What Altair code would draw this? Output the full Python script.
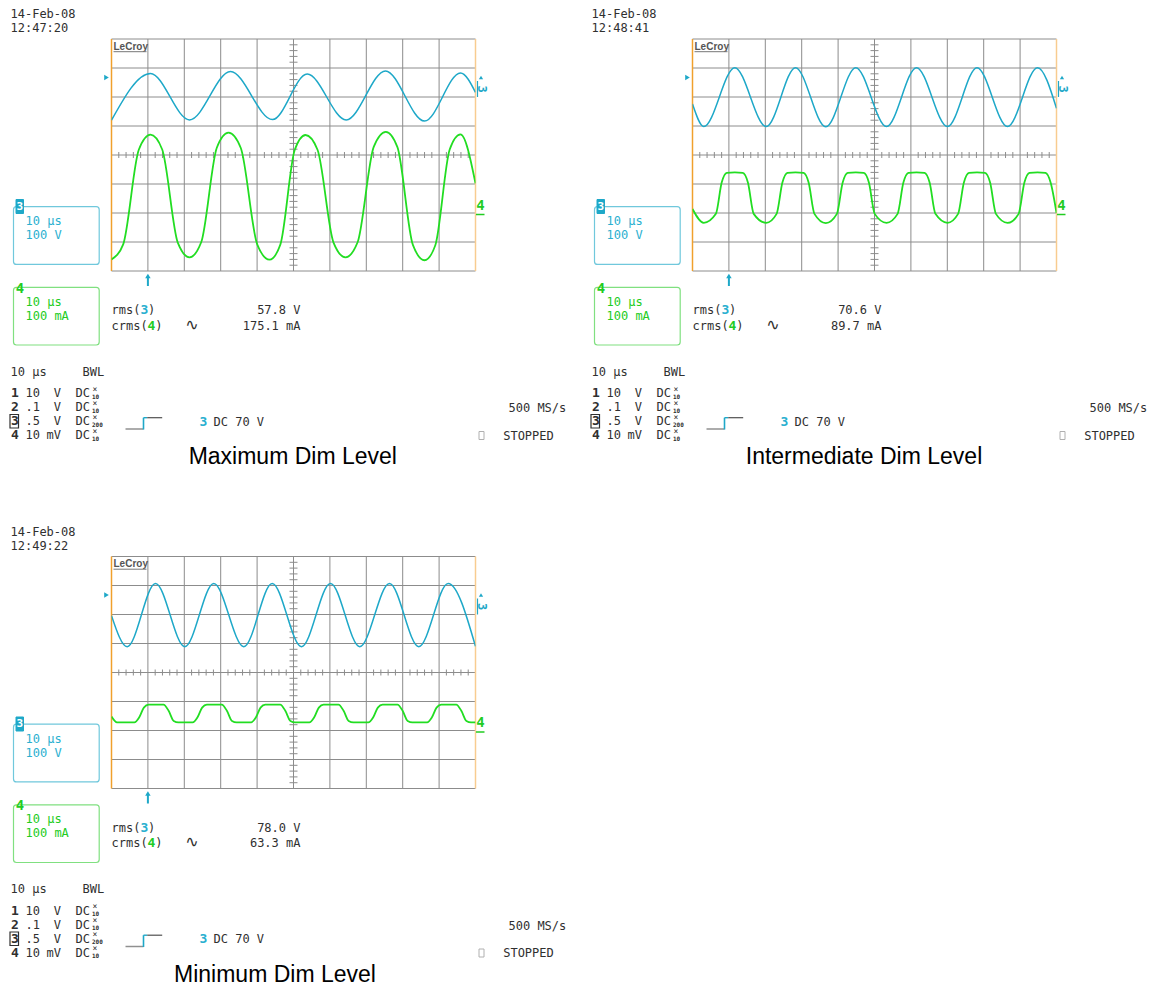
import altair as alt
import pandas as pd

# ---------------- data ----------------
PANEL_DATE = ["14-Feb-08", "14-Feb-08", "14-Feb-08"]
PANEL_TIME = ["12:47:20", "12:48:41", "12:49:22"]
PANEL_TITLE = ["Maximum Dim Level", "Intermediate Dim Level", "Minimum Dim Level"]
RMS_VOLT = ["57.8 V", "70.6 V", "78.0 V"]
CRMS_CURR = ["175.1 mA", "89.7 mA", "63.3 mA"]
TIMEBASE = "10 µs"
CH3_SCALE = "100 V"
CH4_SCALE = "100 mA"
CH_NUM = ["1", "2", "3", "4"]
CH_VAL = ["10", ".1", ".5", "10"]
CH_UNIT = ["V", "V", "V", "mV"]
CH_COUP = ["DC", "DC", "DC", "DC"]
CH_PROBE = ["10", "10", "200", "10"]
TRIGGER_TEXT = "DC 70 V"
SAMPLE_RATE = "500 MS/s"
STATUS = "STOPPED"

# screen graticule: 10 µs/div (0..100 µs), 8 vertical divisions (-4..4)
X_GRID = [0, 10, 20, 30, 40, 50, 60, 70, 80, 90, 100]
Y_GRID = [-4, -3, -2, -1, 0, 1, 2, 3, 4]
X_MINOR = [t for t in range(2, 100, 2) if t % 10]
Y_MINOR = [round(-4 + 0.2 * i, 1) for i in range(1, 40) if i % 5]

# waveforms: time (µs) and level (divisions)
P1_CYAN_T = [0, 10.71, 21.43, 32.69, 44.23, 53.76, 64.48, 75.27, 85.99, 95.88, 100]
P1_CYAN_V = [1.20, 2.81, 1.21, 2.88, 1.22, 2.79, 1.21, 2.90, 1.17, 2.83, 2.16]
P1_GREEN_T = [0, 3.21, 7.50, 10.71, 13.93, 18.21, 21.43, 24.64, 28.93, 32.14, 35.52,
              40.03, 43.41, 46.38, 50.33, 53.30, 56.60, 60.99, 64.29, 67.61, 72.04,
              75.36, 78.55, 82.80, 85.99, 88.96, 92.91, 95.88, 100]
P1_GREEN_V = [-3.60, -3.08, 0.18, 0.70, 0.19, -3.02, -3.53, -3.01, 0.25, 0.77, 0.24,
              -3.08, -3.61, -3.09, 0.17, 0.69, 0.18, -3.02, -3.53, -3.01, 0.28,
              0.80, 0.27, -3.10, -3.63, -3.11, 0.19, 0.71, -0.98]

P2_CYAN_T = [0, 3.10, 11.62, 20.25, 28.30, 36.62, 44.86, 53.30, 61.54, 70.05, 78.16,
             86.54, 94.78, 100]
P2_CYAN_V = [1.76, 0.98, 3.01, 0.98, 3.01, 0.97, 3.01, 0.98, 3.01, 0.98, 3.01,
             0.98, 3.01, 1.61]
P2_GREEN_T = [0, 3.10,
              6.42, 8.02, 9.42, 11.62, 13.82, 15.22, 16.82, 20.25,
              23.10, 24.70, 26.10, 28.30, 30.50, 31.90, 33.50, 36.62,
              39.66, 41.26, 42.66, 44.86, 47.06, 48.46, 50.06, 53.30,
              56.34, 57.94, 59.34, 61.54, 63.74, 65.14, 66.74, 70.05,
              72.96, 74.56, 75.96, 78.16, 80.36, 81.76, 83.36, 86.54,
              89.58, 91.18, 92.58, 94.78, 96.98, 98.38, 100]
P2_GREEN_V = [-1.86, -2.34,
              -2.03, -0.95, -0.62, -0.60, -0.62, -0.95, -2.03, -2.34,
              -2.03, -0.95, -0.62, -0.60, -0.62, -0.95, -2.03, -2.35,
              -2.03, -0.95, -0.62, -0.60, -0.62, -0.95, -2.03, -2.34,
              -2.03, -0.95, -0.62, -0.60, -0.62, -0.95, -2.03, -2.34,
              -2.03, -0.95, -0.62, -0.60, -0.62, -0.95, -2.03, -2.34,
              -2.03, -0.95, -0.62, -0.60, -0.62, -0.95, -2.00]

P3_CYAN_T = [0, 4.31, 12.09, 20.14, 28.10, 36.35, 44.15, 52.20, 60.16, 68.21, 76.37,
             84.42, 92.50, 100]
P3_CYAN_V = [1.96, 0.89, 3.07, 0.89, 3.07, 0.89, 3.07, 0.89, 3.07, 0.89, 3.07,
             0.89, 3.07, 0.90]
P3_GREEN_T = [0, 1.5,
              6.29, 7.59, 8.89, 10.19, 14.29, 15.69, 17.09, 18.39,
              22.30, 23.60, 24.90, 26.20, 30.30, 31.70, 33.10, 34.40,
              38.35, 39.65, 40.95, 42.25, 46.35, 47.75, 49.15, 50.45,
              54.36, 55.66, 56.96, 58.26, 62.36, 63.76, 65.16, 66.46,
              70.57, 71.87, 73.17, 74.47, 78.57, 79.97, 81.37, 82.67,
              86.70, 88.00, 89.30, 90.60, 94.70, 96.10, 97.50, 98.80, 100]
P3_GREEN_V = [-1.52, -1.72,
              -1.72, -1.55, -1.21, -1.11, -1.11, -1.32, -1.67, -1.72,
              -1.72, -1.55, -1.21, -1.11, -1.11, -1.32, -1.67, -1.72,
              -1.72, -1.55, -1.21, -1.11, -1.11, -1.32, -1.67, -1.72,
              -1.72, -1.55, -1.21, -1.11, -1.11, -1.32, -1.67, -1.72,
              -1.72, -1.55, -1.21, -1.11, -1.11, -1.32, -1.67, -1.72,
              -1.72, -1.55, -1.21, -1.11, -1.11, -1.32, -1.67, -1.72, -1.72]

# ---------------- style / layout ----------------
W, H = 364, 232
MONO = "DejaVu Sans Mono"
SANS = "DejaVu Sans"
TITLE_FONT = "Liberation Sans"
GRID = "#8c8c8c"
LEFT_EDGE = "#f0a02c"
RIGHT_EDGE = "#f8cc90"
CYAN = "#1ea8c8"
GREEN = "#22dd22"
CYAN_TXT = "#2ab0d0"
GREEN_TXT = "#22cc22"
BOX3 = "#70c8dc"
BOX4 = "#80e080"
INK = "#303030"
TITLE_DX = [181.3, 171.5, 163.5]

XS = alt.Scale(domain=[0, 100], nice=False, zero=False)
YS = alt.Scale(domain=[-4, 4], nice=False, zero=False)


def one():
    return alt.Chart(pd.DataFrame({"k": [0]}))


def txt(s, x, y, color=INK, size=12, weight="normal", align="left", font=MONO, angle=None):
    kw = dict(text=s, color=color, fontSize=size, fontWeight=weight, align=align,
              font=font, baseline="middle")
    if angle is not None:
        kw["angle"] = angle
    return one().mark_text(**kw).encode(x=alt.value(x), y=alt.value(y))


def seg(x1, y1, x2, y2, color, width=1.0):
    return one().mark_rule(color=color, strokeWidth=width).encode(
        x=alt.value(x1), y=alt.value(y1), x2=alt.value(x2), y2=alt.value(y2))


def box(x1, y1, x2, y2, stroke, fill="#ffffff", fill_opacity=0.0, radius=0, width=1.0):
    return one().mark_rect(stroke=stroke, strokeWidth=width, fill=fill,
                           fillOpacity=fill_opacity, cornerRadius=radius).encode(
        x=alt.value(x1), y=alt.value(y1), x2=alt.value(x2), y2=alt.value(y2))


def pt(x, y, shape, color, size):
    return one().mark_point(shape=shape, filled=True, color=color, size=size,
                            opacity=1).encode(x=alt.value(x), y=alt.value(y))


def X(f="t"):
    return alt.X(f + ":Q", scale=XS, axis=None)


def Y(f="v"):
    return alt.Y(f + ":Q", scale=YS, axis=None)


def wave(ts, vs, color, width):
    df = pd.DataFrame({"t": ts, "v": vs})
    return alt.Chart(df).mark_line(interpolate="monotone", color=color,
                                   strokeWidth=width, clip=True).encode(x=X(), y=Y())


def panel(i, ct, cv, gt, gv):
    L = []
    # graticule
    L.append(alt.Chart(pd.DataFrame({"t": X_GRID[1:-1]})).mark_rule(
        color=GRID, strokeWidth=1).encode(x=X()))
    L.append(alt.Chart(pd.DataFrame({"v": Y_GRID})).mark_rule(
        color=GRID, strokeWidth=1).encode(y=Y()))
    L.append(alt.Chart(pd.DataFrame({"t": [X_GRID[0]]})).mark_rule(
        color=LEFT_EDGE, strokeWidth=1.5).encode(x=X()))
    L.append(alt.Chart(pd.DataFrame({"t": [X_GRID[-1]]})).mark_rule(
        color=RIGHT_EDGE, strokeWidth=1.5).encode(x=X()))
    L.append(alt.Chart(pd.DataFrame({"t": X_MINOR, "v": [0] * len(X_MINOR)})).mark_tick(
        orient="vertical", size=6, thickness=1, color=GRID, opacity=1).encode(x=X(), y=Y()))
    L.append(alt.Chart(pd.DataFrame({"t": [50] * len(Y_MINOR), "v": Y_MINOR})).mark_tick(
        orient="horizontal", size=8, thickness=1, color=GRID, opacity=1).encode(x=X(), y=Y()))
    # waveforms
    L.append(wave(ct, cv, CYAN, 1.5))
    L.append(wave(gt, gv, GREEN, 1.8))

    # screen annotations
    L.append(txt(PANEL_DATE[i], -101, -24.8))
    L.append(txt(PANEL_TIME[i], -101, -10.8))
    L.append(txt("LeCroy", 2, 7.7, color="#555555", size=10, weight="bold", font=TITLE_FONT))
    L.append(seg(2, 12.7, 35, 12.7, "#777777", 1))
    L.append(pt(-5, 38.5, "triangle-right", CYAN, 28))
    L.append(pt(369.5, 38.5, "triangle-up", CYAN, 18))
    L.append(seg(366, 42, 366, 58, CYAN, 1.2))
    L.append(txt("3", 370.5, 50, color=CYAN, size=12, weight="bold", align="center", angle=90))
    L.append(txt("4", 369, 166.5, color=GREEN_TXT, size=14, weight="bold", align="center"))
    L.append(seg(364.5, 175.5, 373, 175.5, GREEN_TXT, 1.5))
    # trigger position arrow (1 division)
    trig = pd.DataFrame({"t": [X_GRID[1]]})
    L.append(alt.Chart(trig).mark_point(shape="triangle-up", filled=True, color=CYAN,
                                        size=30, opacity=1).encode(x=X(), y=alt.value(237)))
    L.append(alt.Chart(trig).mark_rule(color=CYAN, strokeWidth=2).encode(
        x=X(), y=alt.value(237), y2=alt.value(247)))
    # channel 3 box
    L.append(box(-98, 167.7, -12.3, 225.4, BOX3, radius=3, width=1.2))
    L.append(box(-95.5, 160.5, -88, 174.5, CYAN, fill=CYAN, fill_opacity=1))
    L.append(txt("3", -91.7, 167.5, color="#ffffff", size=11, weight="bold", align="center"))
    L.append(txt(TIMEBASE, -86, 182, color=CYAN_TXT))
    L.append(txt(CH3_SCALE, -86, 196, color=CYAN_TXT))
    # channel 4 box
    L.append(box(-98, 248.3, -12.3, 306, BOX4, radius=3, width=1.2))
    L.append(txt("4", -91.5, 249.5, color=GREEN_TXT, size=14, weight="bold", align="center"))
    L.append(txt(TIMEBASE, -86, 262.7, color=GREEN_TXT))
    L.append(txt(CH4_SCALE, -86, 276.7, color=GREEN_TXT))
    # measurements
    L.append(txt("rms(", 0, 271))
    L.append(txt("3", 28.9, 271, color=CYAN_TXT, size=13, weight="bold"))
    L.append(txt(")", 36.6, 271))
    L.append(txt("crms(", 0, 286.7))
    L.append(txt("4", 36.1, 286.7, color=GREEN_TXT, size=13, weight="bold"))
    L.append(txt(")", 43.8, 286.7))
    L.append(txt("∿", 80.5, 285.5, size=16, font=SANS, align="center"))
    L.append(txt(RMS_VOLT[i], 189, 271, align="right"))
    L.append(txt(CRMS_CURR[i], 189, 286.7, align="right"))
    # acquisition settings block
    L.append(txt(TIMEBASE, -101, 332.7))
    L.append(txt("BWL", -29, 332.7))
    rows_y = [354.4, 368.2, 382.2, 396.0]
    for k, ry in enumerate(rows_y):
        L.append(txt(CH_NUM[k], -100.5, ry, size=13, weight="bold"))
        L.append(txt(CH_VAL[k], -86, ry))
        L.append(txt(CH_UNIT[k], -57.7 if CH_UNIT[k] == "V" else -65, ry))
        L.append(txt(CH_COUP[k], -36, ry))
        L.append(txt("×", -19, ry - 3.5, size=8))
        L.append(txt(CH_PROBE[k], -19.5, ry + 3.5, size=6, weight="bold"))
    L.append(box(-101.5, 375.5, -93, 389, INK, width=1.2))
    # trigger symbol
    L.append(seg(14, 390, 32, 390, "#909090", 1.5))
    L.append(seg(32, 390.5, 32, 378.7, CYAN, 1.6))
    L.append(seg(32, 378.7, 35.7, 378.7, CYAN, 1.4))
    L.append(seg(35.7, 378.7, 50.7, 378.7, "#505050", 1.2))
    L.append(txt("3", 88, 382.7, color=CYAN_TXT, size=13, weight="bold"))
    L.append(txt(TRIGGER_TEXT, 102, 382.7))
    L.append(txt(SAMPLE_RATE, 397, 369.4))
    L.append(box(367.5, 392.5, 372.5, 400.5, "#b0b0b0", width=1))
    L.append(txt(STATUS, 391.7, 396.7))
    # caption
    L.append(txt(PANEL_TITLE[i], TITLE_DX[i], 418, color="#000000", size=23,
                 font=TITLE_FONT, align="center"))
    return alt.layer(*L).properties(width=W, height=H)


p1 = panel(0, P1_CYAN_T, P1_CYAN_V, P1_GREEN_T, P1_GREEN_V)
p2 = panel(1, P2_CYAN_T, P2_CYAN_V, P2_GREEN_T, P2_GREEN_V)
p3 = panel(2, P3_CYAN_T, P3_CYAN_V, P3_GREEN_T, P3_GREEN_V)

row1 = alt.hconcat(p1, p2, spacing=217, bounds="flush")
chart = alt.vconcat(row1, p3, spacing=56.5, bounds="full").properties(
    padding={"left": 0.5, "top": 0, "right": 0, "bottom": 0},
    background="white",
).configure_view(strokeWidth=0)

chart.save("out.html", embed_options={"renderer": "svg", "actions": False})
